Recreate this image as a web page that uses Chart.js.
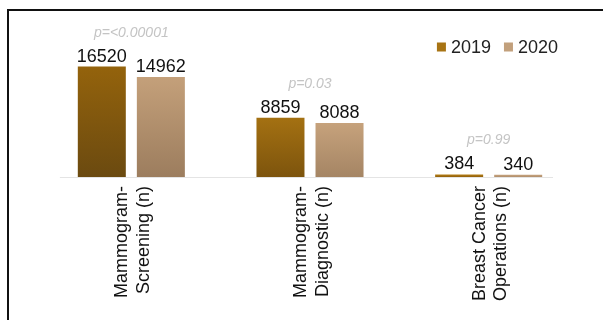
<!DOCTYPE html>
<html>
<head>
<meta charset="utf-8">
<script src="https://cdn.jsdelivr.net/npm/chart.js@4/dist/chart.umd.min.js"></script>
<style>
  html, body { margin: 0; padding: 0; background: #fff; width: 603px; height: 320px; overflow: hidden; }
  #frame { position: absolute; left: 7px; top: 9px; width: 700px; height: 400px;
           border-left: 2px solid #111; border-top: 2px solid #111; box-sizing: border-box; }
  #wrap { position: absolute; left: 0; top: 0; width: 603px; height: 320px; }
</style>
</head>
<body>
<div id="frame"></div>
<div id="wrap"><canvas id="c" width="603" height="320"></canvas></div>
<script>
const categories = [
  ['Mammogram-', 'Screening (n)'],
  ['Mammogram-', 'Diagnostic (n)'],
  ['Breast Cancer', 'Operations (n)']
];
const seriesNames = ['2019', '2020'];
const values2019 = [16520, 8859, 384];
const values2020 = [14962, 8088, 340];
const pValues = ['p=<0.00001', 'p=0.03', 'p=0.99'];

const FONT = "'Liberation Sans', Arial, sans-serif";
const legendColors = ['#a87414', '#c2a07c'];

function mix(a, b, t) {
  const pa = a.match(/\w\w/g).map(h => parseInt(h, 16));
  const pb = b.match(/\w\w/g).map(h => parseInt(h, 16));
  return 'rgb(' + pa.map((v, i) => Math.round(v + (pb[i] - v) * t)).join(',') + ')';
}

function gradFor(kind) {
  return function (ctx) {
    const chart = ctx.chart;
    const base = kind === 0 ? '#9a6a10' : '#b8957a';
    if (!chart.chartArea || ctx.type !== 'data') return base;
    const y = chart.scales.y;
    const v = ctx.raw;
    const top = y.getPixelForValue(v);
    const bot = y.getPixelForValue(0);
    const h = Math.min(1, v / y.max * 1.4);
    const g = chart.ctx.createLinearGradient(0, top, 0, bot);
    if (kind === 0) {
      g.addColorStop(0, mix('b88218', '93620c', h));
      g.addColorStop(1, mix('92600a', '6a4a10', h));
    } else {
      g.addColorStop(0, mix('c8a47e', 'c4a07a', h));
      g.addColorStop(1, mix('b08e6c', '9a7b5c', h));
    }
    return g;
  };
}

const labelPlugin = {
  id: 'labels',
  afterDatasetsDraw(chart) {
    const c = chart.ctx;
    const xs = chart.scales.x;
    const ys = chart.scales.y;
    const area = chart.chartArea;
    c.save();
    // baseline
    const cw = xs.getPixelForValue(1) - xs.getPixelForValue(0);
    const y0 = Math.round(ys.getPixelForValue(0)) + 0.5;
    c.strokeStyle = '#e4e4e4';
    c.lineWidth = 1;
    c.beginPath();
    c.moveTo(xs.getPixelForValue(0) - cw * 0.4, y0);
    c.lineTo(xs.getPixelForValue(categories.length - 1) + cw * 0.36, y0);
    c.stroke();
    // value labels
    c.fillStyle = '#111';
    c.font = '18px ' + FONT;
    c.textAlign = 'center';
    c.textBaseline = 'alphabetic';
    chart.data.datasets.forEach((ds, di) => {
      const meta = chart.getDatasetMeta(di);
      meta.data.forEach((bar, i) => {
        c.fillText(String(ds.data[i]), bar.x, bar.y - 5);
      });
    });
    // p-values
    c.fillStyle = '#c4c4c4';
    c.font = 'italic 14px ' + FONT;
    pValues.forEach((p, i) => {
      const top = Math.min(ys.getPixelForValue(values2019[i]), ys.getPixelForValue(values2020[i]));
      c.fillText(p, xs.getPixelForValue(i), top - 30);
    });
    // legend (top-right)
    c.font = '18px ' + FONT;
    c.textAlign = 'left';
    c.textBaseline = 'middle';
    const box = 9, gapText = 5, gapItem = 13;
    const widths = seriesNames.map(n => c.measureText(n).width);
    let total = 0;
    widths.forEach((w, i) => { total += box + gapText + w + (i ? gapItem : 0); });
    let x = area.right - 20 - total;
    const cy = 47;
    seriesNames.forEach((n, i) => {
      c.fillStyle = legendColors[i];
      c.fillRect(x, cy - 4.5, box, box);
      c.fillStyle = '#222';
      c.fillText(n, x + box + gapText, cy + 1);
      x += box + gapText + widths[i] + gapItem;
    });
    c.restore();
  }
};

new Chart(document.getElementById('c'), {
  type: 'bar',
  data: {
    labels: categories,
    datasets: [
      { label: seriesNames[0], data: values2019, backgroundColor: gradFor(0),
        borderWidth: 0, categoryPercentage: 0.661, barPercentage: 0.813 },
      { label: seriesNames[1], data: values2020, backgroundColor: gradFor(1),
        borderWidth: 0, categoryPercentage: 0.661, barPercentage: 0.813 }
    ]
  },
  options: {
    responsive: false,
    animation: false,
    devicePixelRatio: 1,
    layout: { padding: { left: 42, right: 25, top: 20, bottom: 10 } },
    plugins: {
      tooltip: { enabled: false },
      legend: { display: false }
    },
    scales: {
      x: {
        grid: { display: false, drawTicks: false },
        border: { display: false },
        ticks: {
          maxRotation: 90, minRotation: 90, padding: 9, labelOffset: -9,
          color: '#111',
          font: { family: FONT, size: 18, lineHeight: 1.2 }
        }
      },
      y: {
        display: false,
        min: 0,
        max: 23500
      }
    }
  },
  plugins: [labelPlugin]
});
</script>
</body>
</html>
